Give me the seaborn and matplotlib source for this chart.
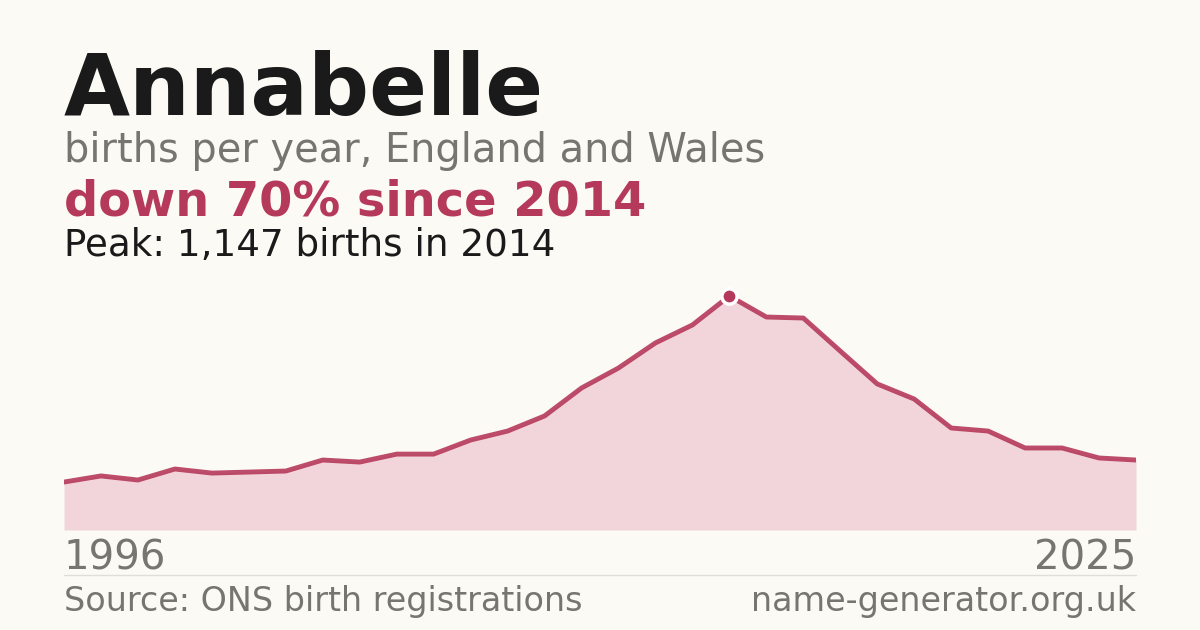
import matplotlib
matplotlib.use("Agg")
import matplotlib.pyplot as plt
import seaborn as sns
import pandas as pd

years = list(range(1996, 2026))
births = [235, 265, 245, 299, 279, 284, 289, 343, 333, 372, 372, 441, 485, 559, 696,
          794, 917, 1005, 1147, 1044, 1039, 877, 716, 642, 500, 485, 402, 402, 353, 343]
peak_year, peak_val = 2014, 1147

sns.set_theme(style="white")
plt.rcParams['font.family'] = ['DejaVu Sans']
BG = "#fbfaf5"; RED = "#b5395a"; GREY = "#777570"; DARK = "#1a1a1a"

fig = plt.figure(figsize=(12, 6.3), dpi=100, facecolor=BG)
ax = fig.add_axes([64/1200, 100/630, 1072/1200, 234/630])
ax.set_facecolor(BG)
df = pd.DataFrame({"year": years, "births": births})
ax.fill_between(df["year"], df["births"], 0, color="#f2d5da", lw=0)
sns.lineplot(data=df, x="year", y="births", ax=ax, color=RED, lw=3.5, alpha=0.9)
ax.plot([peak_year], [peak_val], "o", ms=11, color=RED, mec="white", mew=2.5, clip_on=False, zorder=5)
ax.set_xlim(1996, 2025); ax.set_ylim(0, peak_val)
ax.axis("off")

fig.text(64/1200, 1-115/630, "Annabelle", fontsize=61.5, weight="bold", color=DARK)
fig.text(64/1200, 1-162/630, "births per year, England and Wales", fontsize=28.7, color=GREY)
fig.text(64/1200, 1-215/630, "down 70% since 2014", fontsize=34.5, weight="bold", color=RED)
fig.text(64/1200, 1-256/630, "Peak: 1,147 births in 2014", fontsize=26.8, color=DARK)
fig.text(64/1200, 1-570/630, "1996", fontsize=29, color=GREY)
fig.text(1136/1200, 1-570/630, "2025", fontsize=29, color=GREY, ha="right")
fig.add_artist(plt.Line2D([64/1200, 1136/1200], [1-575/630]*2, color="#e0ded8", lw=1))
fig.text(64/1200, 1-611/630, "Source: ONS birth registrations", fontsize=24, color=GREY)
fig.text(1136/1200, 1-611/630, "name-generator.org.uk", fontsize=24, color=GREY, ha="right")
fig.savefig("out.png", facecolor=BG)
